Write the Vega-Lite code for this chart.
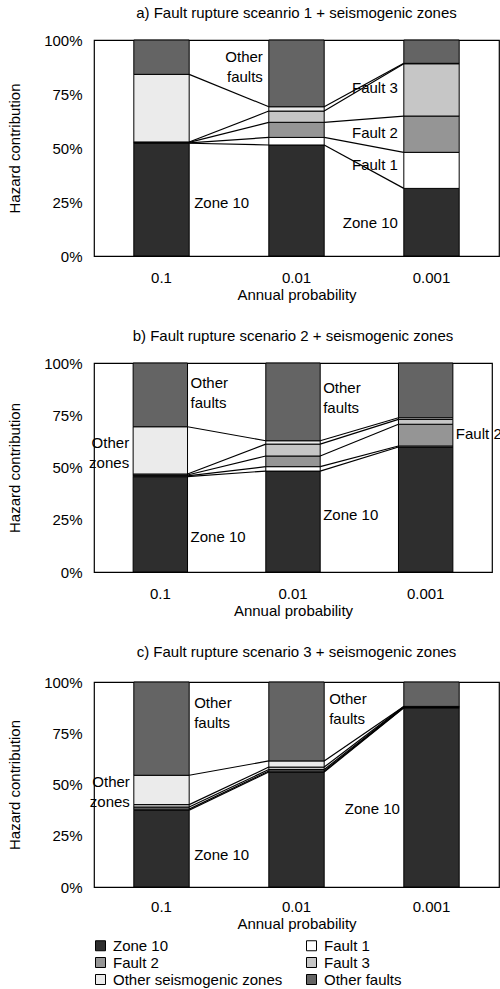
{
  "$schema": "https://vega.github.io/schema/vega-lite/v6.json",
  "padding": {"left": 7, "top": 5, "right": 0, "bottom": 0},
  "background": "white",
  "config": {
    "font": "Liberation Sans",
    "view": {"stroke": "black", "strokeWidth": 1.2},
    "title": {"fontSize": 15, "fontWeight": "normal", "color": "black", "offset": 12, "anchor": "middle"},
    "axis": {"labelFontSize": 15, "titleFontSize": 15, "titleFontWeight": "normal", "labelColor": "black", "titleColor": "black", "ticks": false, "domain": false, "grid": false},
    "legend": {"labelFontSize": 15, "labelColor": "black", "labelLimit": 300},
    "text": {"fontSize": 15, "color": "black", "lineHeight": 20}
  },
  "datasets": {
    "shares": [
      {"p": "a", "prob": 0.1, "k": 1, "series": "Zone 10", "v": 52.2},
      {"p": "a", "prob": 0.1, "k": 2, "series": "Fault 1", "v": 0.2},
      {"p": "a", "prob": 0.1, "k": 3, "series": "Fault 2", "v": 0.2},
      {"p": "a", "prob": 0.1, "k": 4, "series": "Fault 3", "v": 0.2},
      {"p": "a", "prob": 0.1, "k": 5, "series": "Other seismogenic zones", "v": 31.3},
      {"p": "a", "prob": 0.1, "k": 6, "series": "Other faults", "v": 15.9},
      {"p": "a", "prob": 0.01, "k": 1, "series": "Zone 10", "v": 51.4},
      {"p": "a", "prob": 0.01, "k": 2, "series": "Fault 1", "v": 3.5},
      {"p": "a", "prob": 0.01, "k": 3, "series": "Fault 2", "v": 7.0},
      {"p": "a", "prob": 0.01, "k": 4, "series": "Fault 3", "v": 5.2},
      {"p": "a", "prob": 0.01, "k": 5, "series": "Other seismogenic zones", "v": 2.0},
      {"p": "a", "prob": 0.01, "k": 6, "series": "Other faults", "v": 30.9},
      {"p": "a", "prob": 0.001, "k": 1, "series": "Zone 10", "v": 31.3},
      {"p": "a", "prob": 0.001, "k": 2, "series": "Fault 1", "v": 16.7},
      {"p": "a", "prob": 0.001, "k": 3, "series": "Fault 2", "v": 16.8},
      {"p": "a", "prob": 0.001, "k": 4, "series": "Fault 3", "v": 24.2},
      {"p": "a", "prob": 0.001, "k": 5, "series": "Other seismogenic zones", "v": 0.2},
      {"p": "a", "prob": 0.001, "k": 6, "series": "Other faults", "v": 10.8},
      {"p": "b", "prob": 0.1, "k": 1, "series": "Zone 10", "v": 45.6},
      {"p": "b", "prob": 0.1, "k": 2, "series": "Fault 1", "v": 0.4},
      {"p": "b", "prob": 0.1, "k": 3, "series": "Fault 2", "v": 0.4},
      {"p": "b", "prob": 0.1, "k": 4, "series": "Fault 3", "v": 0.5},
      {"p": "b", "prob": 0.1, "k": 5, "series": "Other seismogenic zones", "v": 22.6},
      {"p": "b", "prob": 0.1, "k": 6, "series": "Other faults", "v": 30.5},
      {"p": "b", "prob": 0.01, "k": 1, "series": "Zone 10", "v": 48.3},
      {"p": "b", "prob": 0.01, "k": 2, "series": "Fault 1", "v": 2.1},
      {"p": "b", "prob": 0.01, "k": 3, "series": "Fault 2", "v": 5.1},
      {"p": "b", "prob": 0.01, "k": 4, "series": "Fault 3", "v": 5.7},
      {"p": "b", "prob": 0.01, "k": 5, "series": "Other seismogenic zones", "v": 1.6},
      {"p": "b", "prob": 0.01, "k": 6, "series": "Other faults", "v": 37.2},
      {"p": "b", "prob": 0.001, "k": 1, "series": "Zone 10", "v": 59.8},
      {"p": "b", "prob": 0.001, "k": 2, "series": "Fault 1", "v": 0.5},
      {"p": "b", "prob": 0.001, "k": 3, "series": "Fault 2", "v": 10.4},
      {"p": "b", "prob": 0.001, "k": 4, "series": "Fault 3", "v": 2.3},
      {"p": "b", "prob": 0.001, "k": 5, "series": "Other seismogenic zones", "v": 0.8},
      {"p": "b", "prob": 0.001, "k": 6, "series": "Other faults", "v": 26.2},
      {"p": "c", "prob": 0.1, "k": 1, "series": "Zone 10", "v": 37.4},
      {"p": "c", "prob": 0.1, "k": 2, "series": "Fault 1", "v": 0.6},
      {"p": "c", "prob": 0.1, "k": 3, "series": "Fault 2", "v": 1.0},
      {"p": "c", "prob": 0.1, "k": 4, "series": "Fault 3", "v": 1.2},
      {"p": "c", "prob": 0.1, "k": 5, "series": "Other seismogenic zones", "v": 14.3},
      {"p": "c", "prob": 0.1, "k": 6, "series": "Other faults", "v": 45.5},
      {"p": "c", "prob": 0.01, "k": 1, "series": "Zone 10", "v": 56.1},
      {"p": "c", "prob": 0.01, "k": 2, "series": "Fault 1", "v": 0.5},
      {"p": "c", "prob": 0.01, "k": 3, "series": "Fault 2", "v": 0.7},
      {"p": "c", "prob": 0.01, "k": 4, "series": "Fault 3", "v": 1.2},
      {"p": "c", "prob": 0.01, "k": 5, "series": "Other seismogenic zones", "v": 3.0},
      {"p": "c", "prob": 0.01, "k": 6, "series": "Other faults", "v": 38.5},
      {"p": "c", "prob": 0.001, "k": 1, "series": "Zone 10", "v": 87.4},
      {"p": "c", "prob": 0.001, "k": 2, "series": "Fault 1", "v": 0.2},
      {"p": "c", "prob": 0.001, "k": 3, "series": "Fault 2", "v": 0.2},
      {"p": "c", "prob": 0.001, "k": 4, "series": "Fault 3", "v": 0.2},
      {"p": "c", "prob": 0.001, "k": 5, "series": "Other seismogenic zones", "v": 0.1},
      {"p": "c", "prob": 0.001, "k": 6, "series": "Other faults", "v": 11.9}
    ],
    "notes": [
      {"p": "a", "prob": 0.01, "side": "R", "yv": 92.1, "text": ["Other", "faults"]},
      {"p": "a", "prob": 0.1, "side": "L", "yv": 24.5, "text": "Zone 10"},
      {"p": "a", "prob": 0.001, "side": "R", "yv": 77.8, "text": "Fault 3"},
      {"p": "a", "prob": 0.001, "side": "R", "yv": 57.0, "text": "Fault 2"},
      {"p": "a", "prob": 0.001, "side": "R", "yv": 42.0, "text": "Fault 1"},
      {"p": "a", "prob": 0.001, "side": "R", "yv": 15.3, "text": "Zone 10"},
      {"p": "b", "prob": 0.1, "side": "L", "yv": 90.3, "text": ["Other", "faults"]},
      {"p": "b", "prob": 0.01, "side": "L", "yv": 88.0, "text": ["Other", "faults"]},
      {"p": "b", "prob": 0.1, "side": "R", "yv": 61.7, "text": ["Other", "zones"]},
      {"p": "b", "prob": 0.1, "side": "L", "yv": 16.8, "text": "Zone 10"},
      {"p": "b", "prob": 0.01, "side": "L", "yv": 27.3, "text": "Zone 10"},
      {"p": "b", "prob": 0.001, "side": "L", "yv": 66.0, "text": "Fault 2"},
      {"p": "c", "prob": 0.1, "side": "L", "yv": 89.6, "text": ["Other", "faults"]},
      {"p": "c", "prob": 0.01, "side": "L", "yv": 91.6, "text": ["Other", "faults"]},
      {"p": "c", "prob": 0.1, "side": "R", "yv": 51.0, "text": ["Other", "zones"]},
      {"p": "c", "prob": 0.1, "side": "L", "yv": 15.5, "text": "Zone 10"},
      {"p": "c", "prob": 0.001, "side": "R", "yv": 38.0, "text": "Zone 10"}
    ]
  },
  "spacing": 25,
  "vconcat": [
    {
      "title": "a) Fault rupture sceanrio 1 + seismogenic zones",
      "width": 405,
      "height": 216,
      "layer": [
        {
          "data": {"name": "shares"},
          "transform": [{"filter": "datum.p == 'a'"}],
          "mark": {"type": "bar", "width": {"band": 1}, "stroke": "black", "strokeWidth": 1},
          "encoding": {
            "x": {"field": "prob", "type": "ordinal", "sort": "descending", "scale": {"paddingInner": 0.59, "paddingOuter": 0.295}, "axis": {"title": "Annual probability", "labelAngle": 0, "labelPadding": 14, "titlePadding": 2}},
            "y": {"field": "v", "type": "quantitative", "stack": "zero", "scale": {"domain": [0, 100], "nice": false}, "axis": {"title": "Hazard contribution", "values": [0, 25, 50, 75, 100], "labelExpr": "datum.value + '%'", "labelPadding": 12, "titlePadding": 21}},
            "order": {"field": "k", "type": "quantitative", "sort": "ascending"},
            "fill": {"field": "series", "type": "nominal", "scale": {"domain": ["Zone 10", "Fault 1", "Fault 2", "Fault 3", "Other seismogenic zones", "Other faults"], "range": ["#2e2e2e", "#ffffff", "#959595", "#c6c6c6", "#ebebeb", "#646464"]}, "legend": {"orient": "none", "direction": "horizontal", "legendX": -1, "legendY": 898, "columns": 2, "title": null, "symbolType": "square", "symbolSize": 100, "symbolStrokeColor": "black", "symbolStrokeWidth": 1, "columnPadding": 21, "rowPadding": 1, "labelOffset": 5}}
          }
        },
        {
          "data": {"name": "shares"},
          "transform": [
            {"filter": "datum.p == 'a' && datum.k < 6"},
            {"stack": "v", "groupby": ["prob"], "sort": [{"field": "k", "order": "ascending"}], "as": ["y0", "y1"]},
            {"window": [{"op": "lead", "field": "y1", "as": "y1n"}, {"op": "lead", "field": "prob", "as": "probn"}], "groupby": ["k"], "sort": [{"field": "prob", "order": "descending"}]},
            {"filter": "datum.probn != null"}
          ],
          "mark": {"type": "rule", "color": "black", "strokeWidth": 1.2},
          "encoding": {
            "x": {"field": "prob", "type": "ordinal", "sort": "descending", "bandPosition": 1},
            "x2": {"field": "probn", "bandPosition": 0},
            "y": {"field": "y1", "type": "quantitative"},
            "y2": {"field": "y1n"}
          }
        },
        {
          "data": {"name": "notes"},
          "transform": [{"filter": "datum.p == 'a' && datum.side == 'L'"}],
          "mark": {"type": "text", "align": "left", "baseline": "middle", "dx": 5},
          "encoding": {
            "x": {"field": "prob", "type": "ordinal", "sort": "descending", "bandPosition": 1},
            "y": {"field": "yv", "type": "quantitative"},
            "text": {"field": "text"}
          }
        },
        {
          "data": {"name": "notes"},
          "transform": [{"filter": "datum.p == 'a' && datum.side == 'R'"}],
          "mark": {"type": "text", "align": "right", "baseline": "middle", "dx": -6},
          "encoding": {
            "x": {"field": "prob", "type": "ordinal", "sort": "descending", "bandPosition": 0},
            "y": {"field": "yv", "type": "quantitative"},
            "text": {"field": "text"}
          }
        }
      ]
    },
    {
      "title": "b) Fault rupture scenario 2 + seismogenic zones",
      "width": 398,
      "height": 209,
      "layer": [
        {
          "data": {"name": "shares"},
          "transform": [{"filter": "datum.p == 'b'"}],
          "mark": {"type": "bar", "width": {"band": 1}, "stroke": "black", "strokeWidth": 1},
          "encoding": {
            "x": {"field": "prob", "type": "ordinal", "sort": "descending", "scale": {"paddingInner": 0.59, "paddingOuter": 0.295}, "axis": {"title": "Annual probability", "labelAngle": 0, "labelPadding": 14, "titlePadding": 2}},
            "y": {"field": "v", "type": "quantitative", "stack": "zero", "scale": {"domain": [0, 100], "nice": false}, "axis": {"title": "Hazard contribution", "values": [0, 25, 50, 75, 100], "labelExpr": "datum.value + '%'", "labelPadding": 12, "titlePadding": 21}},
            "order": {"field": "k", "type": "quantitative", "sort": "ascending"},
            "fill": {"field": "series", "type": "nominal"}
          }
        },
        {
          "data": {"name": "shares"},
          "transform": [
            {"filter": "datum.p == 'b' && datum.k < 6"},
            {"stack": "v", "groupby": ["prob"], "sort": [{"field": "k", "order": "ascending"}], "as": ["y0", "y1"]},
            {"window": [{"op": "lead", "field": "y1", "as": "y1n"}, {"op": "lead", "field": "prob", "as": "probn"}], "groupby": ["k"], "sort": [{"field": "prob", "order": "descending"}]},
            {"filter": "datum.probn != null"}
          ],
          "mark": {"type": "rule", "color": "black", "strokeWidth": 1.2},
          "encoding": {
            "x": {"field": "prob", "type": "ordinal", "sort": "descending", "bandPosition": 1},
            "x2": {"field": "probn", "bandPosition": 0},
            "y": {"field": "y1", "type": "quantitative"},
            "y2": {"field": "y1n"}
          }
        },
        {
          "data": {"name": "notes"},
          "transform": [{"filter": "datum.p == 'b' && datum.side == 'L'"}],
          "mark": {"type": "text", "align": "left", "baseline": "middle", "dx": 3},
          "encoding": {
            "x": {"field": "prob", "type": "ordinal", "sort": "descending", "bandPosition": 1},
            "y": {"field": "yv", "type": "quantitative"},
            "text": {"field": "text"}
          }
        },
        {
          "data": {"name": "notes"},
          "transform": [{"filter": "datum.p == 'b' && datum.side == 'R'"}],
          "mark": {"type": "text", "align": "right", "baseline": "middle", "dx": -4},
          "encoding": {
            "x": {"field": "prob", "type": "ordinal", "sort": "descending", "bandPosition": 0},
            "y": {"field": "yv", "type": "quantitative"},
            "text": {"field": "text"}
          }
        }
      ]
    },
    {
      "title": {"text": "c) Fault rupture scenario 3 + seismogenic zones", "offset": 15},
      "width": 405,
      "height": 205,
      "layer": [
        {
          "data": {"name": "shares"},
          "transform": [{"filter": "datum.p == 'c'"}],
          "mark": {"type": "bar", "width": {"band": 1}, "stroke": "black", "strokeWidth": 1},
          "encoding": {
            "x": {"field": "prob", "type": "ordinal", "sort": "descending", "scale": {"paddingInner": 0.59, "paddingOuter": 0.295}, "axis": {"title": "Annual probability", "labelAngle": 0, "labelPadding": 12, "titlePadding": 2}},
            "y": {"field": "v", "type": "quantitative", "stack": "zero", "scale": {"domain": [0, 100], "nice": false}, "axis": {"title": "Hazard contribution", "values": [0, 25, 50, 75, 100], "labelExpr": "datum.value + '%'", "labelPadding": 12, "titlePadding": 21}},
            "order": {"field": "k", "type": "quantitative", "sort": "ascending"},
            "fill": {"field": "series", "type": "nominal"}
          }
        },
        {
          "data": {"name": "shares"},
          "transform": [
            {"filter": "datum.p == 'c' && datum.k < 6"},
            {"stack": "v", "groupby": ["prob"], "sort": [{"field": "k", "order": "ascending"}], "as": ["y0", "y1"]},
            {"window": [{"op": "lead", "field": "y1", "as": "y1n"}, {"op": "lead", "field": "prob", "as": "probn"}], "groupby": ["k"], "sort": [{"field": "prob", "order": "descending"}]},
            {"filter": "datum.probn != null"}
          ],
          "mark": {"type": "rule", "color": "black", "strokeWidth": 1.2},
          "encoding": {
            "x": {"field": "prob", "type": "ordinal", "sort": "descending", "bandPosition": 1},
            "x2": {"field": "probn", "bandPosition": 0},
            "y": {"field": "y1", "type": "quantitative"},
            "y2": {"field": "y1n"}
          }
        },
        {
          "data": {"name": "notes"},
          "transform": [{"filter": "datum.p == 'c' && datum.side == 'L'"}],
          "mark": {"type": "text", "align": "left", "baseline": "middle", "dx": 5},
          "encoding": {
            "x": {"field": "prob", "type": "ordinal", "sort": "descending", "bandPosition": 1},
            "y": {"field": "yv", "type": "quantitative"},
            "text": {"field": "text"}
          }
        },
        {
          "data": {"name": "notes"},
          "transform": [{"filter": "datum.p == 'c' && datum.side == 'R'"}],
          "mark": {"type": "text", "align": "right", "baseline": "middle", "dx": -4},
          "encoding": {
            "x": {"field": "prob", "type": "ordinal", "sort": "descending", "bandPosition": 0},
            "y": {"field": "yv", "type": "quantitative"},
            "text": {"field": "text"}
          }
        }
      ]
    }
  ]
}
